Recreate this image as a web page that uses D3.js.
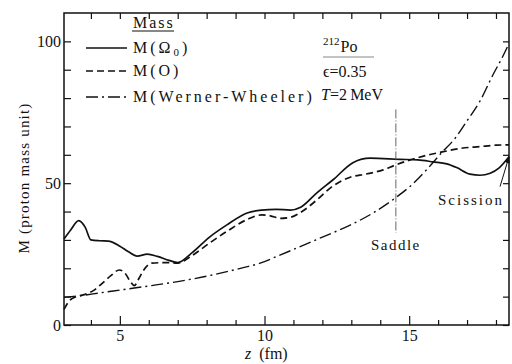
<!DOCTYPE html>
<html>
<head>
<meta charset="utf-8">
<script src="https://cdn.jsdelivr.net/npm/d3@7"></script>
<style>
  body { margin: 0; background: #fff; }
  svg { display: block; }
  svg text { font-family: "Times New Roman", "Liberation Serif", "DejaVu Serif", serif !important; fill: #111; }
  .curve { fill: none; stroke: #111; stroke-width: 1.7; }
  .axis path { display: none; }
  .axis line { stroke: #111; stroke-width: 1.2; }
</style>
</head>
<body>
<svg class="chart" width="512" height="364" font-family="Liberation Serif"></svg>
<script>
// z (fm), M (proton mass unit)
var omega_z = [3.07, 3.3, 3.58, 3.8, 4.0, 4.3, 4.6, 5.0, 5.3, 5.6, 5.95, 6.3, 6.7, 7.0, 7.5, 8.1, 8.7, 9.4, 9.9, 10.4, 10.9, 11.25, 11.8, 12.38, 13.07, 13.65, 14.68, 15.3, 15.83, 16.3, 16.64, 17.1, 17.45, 17.8, 18.1, 18.45]
var omega_m = [30.3, 33.5, 36.8, 34.5, 30.0, 29.7, 29.6, 27.8, 25.8, 24.3, 25.0, 24.2, 22.8, 22.0, 25.5, 31.0, 35.3, 39.5, 40.5, 40.8, 40.5, 41.5, 46.5, 51.3, 57.3, 58.8, 58.4, 58.2, 57.5, 56.8, 55.5, 53.2, 52.8, 53.5, 55.3, 59.3]

var o_z = [3.07, 3.25, 3.5, 3.8, 4.1, 4.4, 4.7, 4.98, 5.2, 5.35, 5.5, 5.65, 5.8, 6.1, 6.6, 7.0, 7.5, 8.1, 8.7, 9.4, 9.9, 10.2, 10.55, 10.9, 11.23, 11.8, 12.3, 12.96, 13.5, 14.1, 14.5, 15.03, 15.6, 16.18, 16.8, 17.45, 18.0, 18.45]
var o_m = [5.5, 8.5, 10.0, 10.8, 12.2, 14.8, 17.5, 19.4, 18.0, 15.5, 13.9, 16.2, 19.0, 21.8, 22.0, 21.8, 24.5, 28.9, 33.0, 37.2, 38.8, 38.5, 37.6, 38.0, 39.6, 44.0, 48.5, 52.1, 53.2, 54.7, 56.3, 58.2, 59.8, 61.1, 62.3, 62.9, 63.4, 63.5]

var ww_z = [3.07, 3.6, 4.3, 5.2, 6.1, 7.0, 7.9, 8.7, 9.3, 9.85, 10.5, 11.2, 12.0, 12.96, 13.8, 14.51, 15.1, 15.6, 16.1, 16.6, 17.0, 17.45, 17.91, 18.2, 18.45]
var ww_m = [9.8, 10.3, 11.3, 12.6, 13.9, 15.3, 17.0, 18.8, 20.3, 21.8, 24.5, 27.5, 31.0, 35.2, 39.8, 44.7, 49.5, 54.7, 60.5, 66.0, 72.0, 79.0, 88.5, 94.0, 99.3]

var saddle_z = 14.54
var saddle_m = [32.5, 76]
var scission_arrow = [[18.14, 48.8], [18.45, 59.3]]

var x_ticks = d3.range(4, 19)
var x_labels = [5, 10, 15]
var y_ticks = d3.range(0, 110, 10)
var y_labels = [0, 50, 100]

var legend_names = ["M(\u03A9", "M(O)", "M(Werner-Wheeler)"]
var legend_dash = [null, "7,4", "12,4,2,4"]

var svg = d3.select(".chart")

var x_scaler = d3.scaleLinear().domain([3.07, 18.45]).range([64, 509])
var y_scaler = d3.scaleLinear().domain([0, 110]).range([325, 13])

function zip(a, b) { return a.map(function(d, i) { return [d, b[i]] }) }

var line = d3.line()
    .x(function(d) { return x_scaler(d[0]) })
    .y(function(d) { return y_scaler(d[1]) })
    .curve(d3.curveMonotoneX)

// axes, ticks pointing inward
svg.append("g").attr("class", "axis")
    .attr("transform", "translate(0," + y_scaler(0) + ")")
    .call(d3.axisBottom(x_scaler).tickValues(x_ticks.filter(function(d){return x_labels.indexOf(d) < 0}))
        .tickSize(-5).tickFormat(""))
svg.append("g").attr("class", "axis")
    .attr("transform", "translate(0," + y_scaler(0) + ")")
    .call(d3.axisBottom(x_scaler).tickValues(x_labels).tickSize(-9).tickPadding(5).tickFormat(d3.format("d")))
    .attr("font-family", null)
    .selectAll("text").style("font-size", "16px")
svg.append("g").attr("class", "axis")
    .attr("transform", "translate(0," + y_scaler(110) + ")")
    .call(d3.axisTop(x_scaler).tickValues(x_ticks).tickSize(-6).tickFormat(""))
svg.append("g").attr("class", "axis")
    .attr("transform", "translate(" + x_scaler(3.07) + ",0)")
    .call(d3.axisLeft(y_scaler).tickValues(y_ticks).tickSize(-7).tickPadding(3)
        .tickFormat(function(d) { return y_labels.indexOf(d) >= 0 ? d : "" }))
    .attr("font-family", null)
    .selectAll("text").style("font-size", "16px")
svg.append("g").attr("class", "axis")
    .attr("transform", "translate(" + x_scaler(18.45) + ",0)")
    .call(d3.axisRight(y_scaler).tickValues(y_ticks).tickSize(-6).tickFormat(""))

svg.append("rect")
    .attr("x", x_scaler(3.07)).attr("y", y_scaler(110))
    .attr("width", x_scaler(18.45) - x_scaler(3.07))
    .attr("height", y_scaler(0) - y_scaler(110))
    .attr("fill", "none").attr("stroke", "#111").attr("stroke-width", 1.5)

// curves
svg.append("path").attr("class", "curve").attr("d", line(zip(omega_z, omega_m)))
svg.append("path").attr("class", "curve").attr("d", line(zip(o_z, o_m)))
    .attr("stroke-dasharray", legend_dash[1])
svg.append("path").attr("class", "curve").attr("d", line(zip(ww_z, ww_m)))
    .attr("stroke-dasharray", legend_dash[2]).style("stroke-width", 1.4)

// saddle marker
svg.append("line")
    .attr("x1", x_scaler(saddle_z)).attr("x2", x_scaler(saddle_z))
    .attr("y1", y_scaler(saddle_m[1])).attr("y2", y_scaler(saddle_m[0]))
    .attr("stroke", "#555").attr("stroke-width", 0.9).attr("stroke-dasharray", "9,2,1,2")
svg.append("text").attr("x", x_scaler(saddle_z)).attr("y", 250)
    .attr("text-anchor", "middle").style("font-size", "15px").style("letter-spacing", "1.5px")
    .text("Saddle")

// scission arrow
svg.append("defs").append("marker")
    .attr("id", "arr").attr("viewBox", "0 0 10 10").attr("refX", 9).attr("refY", 5)
    .attr("markerWidth", 7).attr("markerHeight", 7).attr("orient", "auto")
    .append("path").attr("d", "M0,1 L10,5 L0,9 z").attr("fill", "#111")
svg.append("line")
    .attr("x1", x_scaler(scission_arrow[0][0])).attr("y1", y_scaler(scission_arrow[0][1]))
    .attr("x2", x_scaler(scission_arrow[1][0])).attr("y2", y_scaler(scission_arrow[1][1]))
    .attr("stroke", "#111").attr("stroke-width", 1).attr("marker-end", "url(#arr)")
svg.append("text").attr("x", 438).attr("y", 205)
    .style("font-size", "15px").style("letter-spacing", "2px").text("Scission")

// legend
var lg = svg.append("g")
lg.append("text").attr("x", 133).attr("y", 28)
    .style("font-size", "16px").style("letter-spacing", "2px").text("Mass")
lg.append("line").attr("x1", 132).attr("x2", 174).attr("y1", 31).attr("y2", 31)
    .attr("stroke", "#111").attr("stroke-width", 1)
var rows = [48, 71, 97]
legend_names.forEach(function(name, i) {
    lg.append("line").attr("x1", 86).attr("x2", 127).attr("y1", rows[i]).attr("y2", rows[i])
        .attr("stroke", "#111").attr("stroke-width", 1.5)
        .attr("stroke-dasharray", legend_dash[i])
    var t = lg.append("text").attr("x", 133).attr("y", rows[i] + 5)
        .style("font-size", "16px").style("letter-spacing", "3px")
    if (i == 0) {
        t.append("tspan").text(name)
        t.append("tspan").attr("dy", 3).style("font-size", "11px").text("0")
        t.append("tspan").attr("dy", -3).text(")")
    } else {
        t.text(name)
    }
})

// nucleus info
var info = svg.append("g").style("font-size", "16px")
var po = info.append("text").attr("x", 323).attr("y", 52)
po.append("tspan").attr("dy", -7).style("font-size", "11px").text("212")
po.append("tspan").attr("dy", 7).attr("dx", 1).text("Po")
info.append("line").attr("x1", 323).attr("x2", 374).attr("y1", 57).attr("y2", 57)
    .attr("stroke", "#888").attr("stroke-width", 1)
info.append("text").attr("x", 323).attr("y", 77).text("\u03F5=0.35")
var tt = info.append("text").attr("x", 321).attr("y", 100)
tt.append("tspan").style("font-style", "italic").text("T")
tt.append("tspan").text("=2\u2009MeV")

// axis titles
var xt = svg.append("text").attr("x", 245).attr("y", 359).style("font-size", "16px")
xt.append("tspan").style("font-style", "italic").text("z")
xt.append("tspan").attr("dx", 8).text("(fm)")

svg.append("text")
    .attr("transform", "translate(29,178) rotate(-90)")
    .attr("text-anchor", "middle")
    .style("font-size", "15px").style("letter-spacing", "1.2px")
    .text("M (proton mass unit)")
</script>
</body>
</html>
